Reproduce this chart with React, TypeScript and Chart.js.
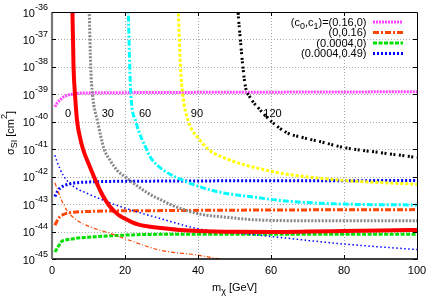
import React, { useEffect, useRef } from "react";
import { Chart, registerables } from "chart.js";

Chart.register(...registerables);

// ---- data (m_chi in GeV, sigma_SI in cm^2) ----
const redMass = [5.4, 5.6, 5.9, 6.3, 6.9, 7.6, 8.5, 10, 11.5, 12.5, 13.5, 14.5, 15.5, 16.5, 17.5, 18.5, 19.5, 22, 24, 27, 30, 35, 40, 50, 60, 70, 80, 90, 100];
const redSigma = [2e-36, 1e-36, 1e-38, 1e-39, 1e-40, 3e-41, 1e-41, 3e-42, 1e-42, 5e-43, 2.6e-43, 1.5e-43, 9.5e-44, 6.6e-44, 4.9e-44, 3.8e-44, 3.2e-44, 2.15e-44, 1.75e-44, 1.5e-44, 1.35e-44, 1.15e-44, 1.05e-44, 9.8e-45, 9.7e-45, 1e-44, 1.05e-44, 1.1e-44, 1.15e-44];

const grayMass = [10.1, 10.2, 10.6, 11.1, 12.5, 14.3, 15.9, 18, 20, 24, 27, 30, 33, 40, 49, 55, 65, 80, 100];
const graySigma = [2e-36, 1e-36, 1e-38, 1e-39, 1e-40, 1e-41, 4e-42, 1.6e-42, 1e-42, 4e-43, 2.2e-43, 1.4e-43, 9e-44, 4.5e-44, 3.2e-44, 2.7e-44, 2.5e-44, 2.5e-44, 2.5e-44];

const cyanMass = [20.8, 20.9, 21.3, 21.6, 23, 25.9, 27, 29, 32, 35, 40, 46, 54, 64, 80, 100];
const cyanSigma = [2e-36, 1e-36, 1e-38, 1e-39, 1e-40, 1e-41, 5e-42, 2.5e-42, 1.3e-42, 8.3e-43, 4.5e-43, 2.7e-43, 1.9e-43, 1.3e-43, 1e-43, 9.3e-44];

const yellowMass = [34.5, 34.6, 35.2, 35.8, 37.4, 40.5, 42.8, 48.8, 58, 64, 80, 100];
const yellowSigma = [2e-36, 1e-36, 1e-38, 1e-39, 1e-40, 2.2e-41, 1e-41, 4e-42, 1.8e-42, 1.25e-42, 7.3e-43, 5.3e-43];

const blackMass = [50.9, 51.0, 51.6, 52.3, 53, 54.2, 57, 60.2, 64.3, 68, 73.4, 80, 90, 100];
const blackSigma = [2e-36, 1e-36, 1e-37, 1e-38, 1.9e-39, 8e-40, 2.7e-40, 1e-40, 4e-41, 2.8e-41, 1.9e-41, 1.15e-41, 7.5e-42, 5e-42];

const magentaMass = [0.8, 1.5, 2.2, 3, 4, 5, 6.8, 10, 20, 40, 60, 80, 100];
const magentaSigma = [3.5e-40, 5e-40, 6.2e-40, 7.8e-40, 9e-40, 9.8e-40, 1.08e-39, 1.12e-39, 1.15e-39, 1.18e-39, 1.2e-39, 1.22e-39, 1.25e-39];

const orangeMass = [0.8, 1.5, 2.2, 3, 4, 6, 8.6, 15, 30, 60, 100];
const orangeSigma = [1.7e-44, 2.6e-44, 3.5e-44, 4.1e-44, 4.6e-44, 5.1e-44, 5.3e-44, 5.6e-44, 5.8e-44, 6.1e-44, 6.3e-44];

const greenMass = [0.8, 1.3, 2, 2.6, 3.5, 4.9, 7, 10, 15, 28.7, 50, 100];
const greenSigma = [1.8e-45, 2.3e-45, 3.3e-45, 4.3e-45, 4.8e-45, 5.2e-45, 5.8e-45, 6.2e-45, 6.9e-45, 7.9e-45, 8e-45, 8e-45];

const blueMass = [0.8, 1.5, 2.2, 3.5, 5.8, 9, 13, 30, 60, 100];
const blueSigma = [1.9e-43, 2.9e-43, 3.8e-43, 4.8e-43, 5.8e-43, 6.3e-43, 6.6e-43, 6.9e-43, 7.1e-43, 7.2e-43];

const blueThinMass = [0.8, 1.3, 3.1, 5.8, 9.5, 14, 19.5, 29.6, 39.6, 45, 54, 64, 80, 100];
const blueThinSigma = [6e-42, 3.8e-42, 1.1e-42, 4.5e-43, 2.5e-43, 1.4e-43, 7.5e-44, 3e-44, 1.3e-44, 1e-44, 8e-45, 5.8e-45, 3.5e-45, 2.2e-45];

const orangeThinMass = [0.8, 1.3, 2.2, 4, 6.8, 10.4, 15.9, 20.5, 29.6, 39.6, 46, 50];
const orangeThinSigma = [6e-43, 4e-43, 1.9e-43, 6.1e-44, 2.6e-44, 1.5e-44, 8.6e-45, 5.2e-45, 2.1e-45, 1.4e-45, 1e-45, 8e-46];

const curveLabels = ["0", "30", "60", "90", "120"];
const curveLabelMass = [4.4, 15.3, 25.5, 39.7, 60.4];
const curveLabelSigma = [2.1e-40, 2.1e-40, 2.1e-40, 2.1e-40, 2.1e-40];

const xTicks = [0, 20, 40, 60, 80, 100];
const yExponents = [-45, -44, -43, -42, -41, -40, -39, -38, -37, -36];

const legendLabels = [
  [{ t: "(c" }, { t: "0", sub: true }, { t: ",c" }, { t: "1", sub: true }, { t: ")=(0.16,0)" }],
  [{ t: "(0,0.16)" }],
  [{ t: "(0.0004,0)" }],
  [{ t: "(0.0004,0.49)" }],
];

const FONT = '"Liberation Sans", Arial, sans-serif';

type Part = { t: string; sub?: boolean; sup?: boolean };

function drawRich(ctx: CanvasRenderingContext2D, parts: Part[], x: number, y: number, align: "left" | "right" | "center", size = 11) {
  const small = Math.round(size * 0.8);
  const widths = parts.map((p) => {
    ctx.font = `${p.sub || p.sup ? small : size}px ${FONT}`;
    return ctx.measureText(p.t).width;
  });
  const total = widths.reduce((a, b) => a + b, 0);
  let cx = align === "left" ? x : align === "right" ? x - total : x - total / 2;
  ctx.textAlign = "left";
  ctx.textBaseline = "alphabetic";
  parts.forEach((p, i) => {
    ctx.font = `${p.sub || p.sup ? small : size}px ${FONT}`;
    const dy = p.sup ? -7 : p.sub ? 3 : 0;
    ctx.fillText(p.t, cx, y + dy);
    cx += widths[i];
  });
}

const pts = (xs: number[], ys: number[]) => xs.map((x, i) => ({ x, y: ys[i] }));

const styles: any[] = [
  { data: pts(redMass, redSigma), borderColor: "#ff0000", borderWidth: 4, borderDash: [] },
  { data: pts(grayMass, graySigma), borderColor: "#888888", borderWidth: 3, borderDash: [2, 1.5] },
  { data: pts(cyanMass, cyanSigma), borderColor: "#00ffff", borderWidth: 3, borderDash: [6, 2, 2, 2] },
  { data: pts(yellowMass, yellowSigma), borderColor: "#ffff00", borderWidth: 3, borderDash: [3, 2] },
  { data: pts(blackMass, blackSigma), borderColor: "#000000", borderWidth: 3, borderDash: [2, 1.5, 2, 3.5] },
  { data: pts(blueThinMass, blueThinSigma), borderColor: "#0000ff", borderWidth: 1.5, borderDash: [1.5, 2.5] },
  { data: pts(orangeThinMass, orangeThinSigma), borderColor: "#ff4500", borderWidth: 1.2, borderDash: [4, 2, 1, 2] },
  { data: pts(magentaMass, magentaSigma), borderColor: "#ff44ff", borderWidth: 3, borderDash: [2, 1] },
  { data: pts(orangeMass, orangeSigma), borderColor: "#ff4500", borderWidth: 3, borderDash: [6, 2, 2, 2] },
  { data: pts(greenMass, greenSigma), borderColor: "#00e000", borderWidth: 3, borderDash: [4, 1.5] },
  { data: pts(blueMass, blueSigma), borderColor: "#0000ff", borderWidth: 3, borderDash: [2, 2] },
];

const legendStyle = [7, 8, 9, 10];

const decor = {
  id: "decor",
  beforeDatasetsDraw(chart: any) {
    const { ctx, chartArea: a, scales } = chart;
    const xs = scales.x, ys = scales.y;
    ctx.save();
    ctx.strokeStyle = "#aaaaaa";
    ctx.lineWidth = 1;
    ctx.setLineDash([1, 2]);
    yExponents.slice(1, -1).forEach((e) => {
      const py = Math.round(ys.getPixelForValue(Math.pow(10, e))) + 0.5;
      ctx.beginPath(); ctx.moveTo(a.left, py); ctx.lineTo(a.right, py); ctx.stroke();
    });
    xTicks.slice(1, -1).forEach((v) => {
      const px = Math.round(xs.getPixelForValue(v)) + 0.5;
      ctx.beginPath(); ctx.moveTo(px, a.top); ctx.lineTo(px, a.bottom); ctx.stroke();
    });
    ctx.restore();
  },
  afterDraw(chart: any) {
    const { ctx, chartArea: a, scales } = chart;
    const xs = scales.x, ys = scales.y;
    ctx.save();
    ctx.setLineDash([]);
    // border
    ctx.strokeStyle = "#000";
    ctx.lineWidth = 1;
    ctx.beginPath();
    ctx.moveTo(a.left, a.top + 0.5); ctx.lineTo(a.right + 0.5, a.top + 0.5);
    ctx.lineTo(a.right + 0.5, a.bottom); ctx.stroke();
    ctx.lineWidth = 1.5;
    ctx.beginPath(); ctx.moveTo(a.left, a.bottom); ctx.lineTo(a.right + 1, a.bottom); ctx.stroke();
    ctx.strokeStyle = "#777";
    ctx.lineWidth = 2.2;
    ctx.beginPath(); ctx.moveTo(a.left, a.top); ctx.lineTo(a.left, a.bottom); ctx.stroke();
    // ticks
    ctx.strokeStyle = "#000";
    ctx.lineWidth = 1;
    yExponents.forEach((e) => {
      const py = Math.round(ys.getPixelForValue(Math.pow(10, e))) + 0.5;
      ctx.beginPath(); ctx.moveTo(a.left, py); ctx.lineTo(a.left + 4, py); ctx.stroke();
      ctx.beginPath(); ctx.moveTo(a.right, py); ctx.lineTo(a.right - 4, py); ctx.stroke();
    });
    xTicks.slice(1, -1).forEach((v) => {
      const px = Math.round(xs.getPixelForValue(v)) + 0.5;
      ctx.beginPath(); ctx.moveTo(px, a.top); ctx.lineTo(px, a.top + 4); ctx.stroke();
      ctx.beginPath(); ctx.moveTo(px, a.bottom); ctx.lineTo(px, a.bottom - 4); ctx.stroke();
    });
    // tick labels
    ctx.fillStyle = "#000";
    yExponents.forEach((e) => {
      const py = ys.getPixelForValue(Math.pow(10, e));
      drawRich(ctx, [{ t: "10" }, { t: String(e), sup: true }], a.left - 4, py + 4.5, "right");
    });
    xTicks.forEach((v) => {
      drawRich(ctx, [{ t: String(v) }], xs.getPixelForValue(v), a.bottom + 14.5, "center");
    });
    // axis titles
    drawRich(ctx, [{ t: "m" }, { t: "\u03c7", sub: true }, { t: " [GeV]" }], (a.left + a.right) / 2, 290.5, "center");
    ctx.save();
    ctx.translate(13.5, 133);
    ctx.rotate(-Math.PI / 2);
    drawRich(ctx, [{ t: "\u03c3" }, { t: "SI", sub: true }, { t: " [cm" }, { t: "2", sup: true }, { t: "]" }], 0, 0, "center");
    ctx.restore();
    // curve labels
    curveLabels.forEach((s, i) => {
      drawRich(ctx, [{ t: s }], xs.getPixelForValue(curveLabelMass[i]), ys.getPixelForValue(curveLabelSigma[i]) + 4, "center");
    });
    // legend
    legendLabels.forEach((parts, i) => {
      const sy = 22 + i * 10.5;
      ctx.fillStyle = "#000";
      drawRich(ctx, parts as Part[], 366.5, sy + 3.5, "right");
      const st = styles[legendStyle[i]];
      ctx.strokeStyle = st.borderColor;
      ctx.lineWidth = st.borderWidth;
      ctx.setLineDash(st.borderDash);
      ctx.beginPath(); ctx.moveTo(373, sy); ctx.lineTo(403, sy); ctx.stroke();
    });
    ctx.restore();
  },
};

export default function App() {
  const ref = useRef<HTMLCanvasElement | null>(null);
  useEffect(() => {
    if (!ref.current) return;
    const chart = new Chart(ref.current, {
      type: "line",
      data: {
        datasets: styles.map((s) => ({
          ...s,
          pointRadius: 0,
          fill: false,
          cubicInterpolationMode: "monotone",
          borderCapStyle: "butt",
        })),
      },
      options: {
        animation: false,
        responsive: false,
        devicePixelRatio: 1,
        layout: { padding: { left: 52, right: 19, top: 12, bottom: 45 } },
        scales: {
          x: { type: "linear", min: 0, max: 100, display: false },
          y: { type: "logarithmic", min: 1e-45, max: 1e-36, display: false },
        },
        plugins: { legend: { display: false }, tooltip: { enabled: false } },
      },
      plugins: [decor],
    } as any);
    return () => chart.destroy();
  }, []);
  return (
    <div style={{ position: "absolute", left: 0, top: 0, width: 436, height: 304, background: "#fff" }}>
      <canvas ref={ref} width={436} height={304} style={{ display: "block" }} />
    </div>
  );
}
